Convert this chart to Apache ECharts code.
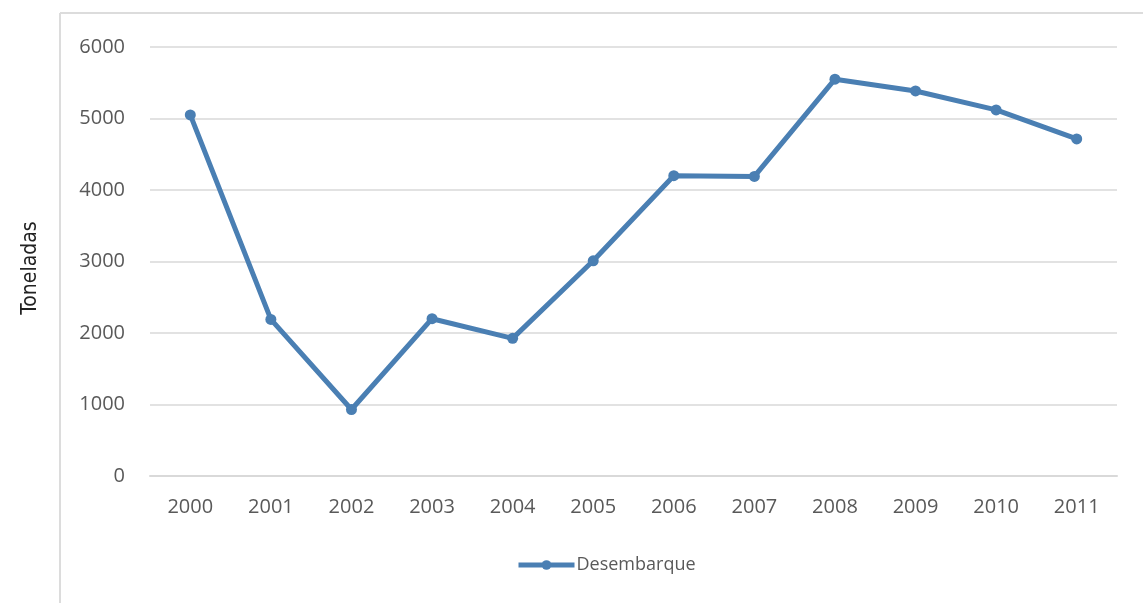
<!DOCTYPE html>
<html>
<head>
<meta charset="utf-8">
<script src="https://cdn.jsdelivr.net/npm/echarts@6/dist/echarts.min.js"></script>
<style>
  html, body { margin: 0; padding: 0; background: #fff; }
  #main { width: 1143px; height: 603px; }
</style>
</head>
<body>
<div id="main"></div>
<script>
const years = ['2000', '2001', '2002', '2003', '2004', '2005', '2006', '2007', '2008', '2009', '2010', '2011']
const desembarque = [5050, 2190, 930, 2200, 1925, 3010, 4200, 4190, 5550, 5385, 5120, 4715]
const seriesName = 'Desembarque'
const yTitle = 'Toneladas'

const labelFont = '"Open Sans", "DejaVu Sans", sans-serif'

const myChart = echarts.init(document.getElementById('main'))

myChart.setOption({
  backgroundColor: '#fff',
  animation: false,
  graphic: [
    // moldura cinza clara (topo e esquerda)
    { type: 'line', shape: { x1: 60, y1: 13, x2: 1143, y2: 13 }, style: { stroke: '#dcdcdc', lineWidth: 2 } },
    { type: 'line', shape: { x1: 60, y1: 13, x2: 60, y2: 603 }, style: { stroke: '#dcdcdc', lineWidth: 2 } },
    {
      type: 'text',
      rotation: Math.PI / 2,
      x: 31, y: 268,
      style: {
        text: yTitle,
        font: '21px "Liberation Sans Narrow", "DejaVu Sans Condensed", sans-serif',
        fill: '#222',
        textAlign: 'center',
        textVerticalAlign: 'middle'
      }
    }
  ],
  legend: {
    top: 556,
    left: 516,
    padding: 0,
    itemWidth: 56,
    itemHeight: 12,
    data: [seriesName],
    lineStyle: { width: 5 },
    textStyle: { fontFamily: labelFont, fontSize: 18, color: '#595959', padding: [0, 0, 0, -3] }
  },
  grid: {
    left: 150,
    right: 26,
    top: 47,
    bottom: 127
  },
  xAxis: {
    type: 'category',
    data: years,
    boundaryGap: true,
    axisLine: { lineStyle: { color: '#d9d9d9', width: 2 } },
    axisTick: { show: false },
    axisLabel: { fontFamily: labelFont, fontSize: 20, color: '#595959', margin: 21 }
  },
  yAxis: {
    type: 'value',
    min: 0,
    max: 6000,
    interval: 1000,
    axisLine: { show: false },
    axisTick: { show: false },
    splitLine: { lineStyle: { color: '#d9d9d9', width: 1.5 } },
    axisLabel: {
      fontFamily: labelFont, fontSize: 20, color: '#595959', margin: 25,
      formatter: (v) => String(v)
    }
  },
  series: [
    {
      name: seriesName,
      type: 'line',
      data: desembarque,
      symbol: 'circle',
      symbolSize: 11,
      lineStyle: { color: '#4a7fb3', width: 5 },
      itemStyle: { color: '#4a7fb3' }
    }
  ]
})
</script>
</body>
</html>
